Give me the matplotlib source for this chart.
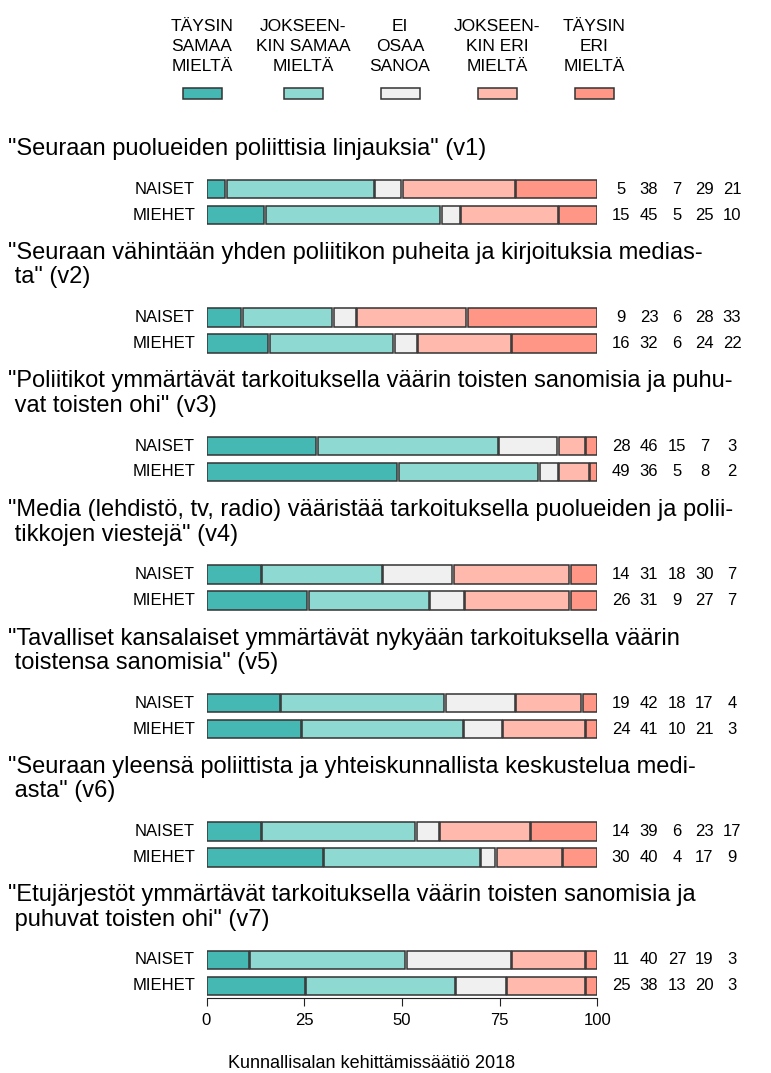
import matplotlib
matplotlib.use("Agg")
import matplotlib.pyplot as plt

""" data """
categories = ["TÄYSIN\nSAMAA\nMIELTÄ", "JOKSEEN-\nKIN SAMAA\nMIELTÄ", "EI\nOSAA\nSANOA",
              "JOKSEEN-\nKIN ERI\nMIELTÄ", "TÄYSIN\nERI\nMIELTÄ"]
colors = ["#45b8b4", "#8fd9d3", "#f0f0f0", "#ffbaad", "#ff9686"]
groups = ["NAISET", "MIEHET"]
questions = [
    ['"Seuraan puolueiden poliittisia linjauksia" (v1)'],
    ['"Seuraan vähintään yhden poliitikon puheita ja kirjoituksia medias-', ' ta" (v2)'],
    ['"Poliitikot ymmärtävät tarkoituksella väärin toisten sanomisia ja puhu-', ' vat toisten ohi" (v3)'],
    ['"Media (lehdistö, tv, radio) vääristää tarkoituksella puolueiden ja polii-', ' tikkojen viestejä" (v4)'],
    ['"Tavalliset kansalaiset ymmärtävät nykyään tarkoituksella väärin', ' toistensa sanomisia" (v5)'],
    ['"Seuraan yleensä poliittista ja yhteiskunnallista keskustelua medi-', ' asta" (v6)'],
    ['"Etujärjestöt ymmärtävät tarkoituksella väärin toisten sanomisia ja', ' puhuvat toisten ohi" (v7)'],
]
naiset = [[5, 38, 7, 29, 21], [9, 23, 6, 28, 33], [28, 46, 15, 7, 3], [14, 31, 18, 30, 7],
          [19, 42, 18, 17, 4], [14, 39, 6, 23, 17], [11, 40, 27, 19, 3]]
miehet = [[15, 45, 5, 25, 10], [16, 32, 6, 24, 22], [49, 36, 5, 8, 2], [26, 31, 9, 27, 7],
          [24, 41, 10, 21, 3], [30, 40, 4, 17, 9], [25, 38, 13, 20, 3]]
ticks = [0, 25, 50, 75, 100]
source = "Kunnallisalan kehittämissäätiö 2018"

""" layout (pixels) """
W, H = 771, 1073
x0, x100 = 206.5, 597.5
first_row = 189
group_step = 128.5
row_step = 26
bar_h = 18.5
gap = 0.35  # small white gap between segments (in %)
num_cols = [621, 649, 677, 704.5, 732]
legend_x = [202, 303, 400, 497, 594]

plt.rcParams["font.family"] = ["Liberation Sans", "DejaVu Sans"]
fig = plt.figure(figsize=(W / 100, H / 100), dpi=100)
ax = fig.add_axes([x0 / W, 0, (x100 - x0) / W, 1])
ax.set_xlim(0, 100)
ax.set_ylim(H, 0)


def ftext(x, y, s, **kw):
    fig.text(x / W, 1 - y / H, s, **kw)


## legend
for i in range(5):
    ftext(legend_x[i], 46.5, categories[i], ha="center", va="center", fontsize=12.5,
          linespacing=1.38)
    fig.patches.append(plt.Rectangle(((legend_x[i] - 19.5) / W, 1 - 99 / H), 39 / W, 11 / H,
                                     transform=fig.transFigure, facecolor=colors[i],
                                     edgecolor="#333333", linewidth=1.1))

## bars
for q in range(len(questions)):
    y1 = first_row + q * group_step
    lines = questions[q]
    for j, line in enumerate(lines):
        ftext(8, y1 - 40 - (len(lines) - 1 - j) * 24.5, line, ha="left", va="center", fontsize=17)
    for r, vals in enumerate([naiset[q], miehet[q]]):
        y = y1 + r * row_step
        tot = sum(vals)
        left = 0
        for k, v in enumerate(vals):
            w = v * 100 / tot
            ax.barh(y, w - gap, left=left + gap / 2, height=bar_h, color=colors[k],
                    edgecolor="#333333", linewidth=1.1)
            left += w
            ftext(num_cols[k], y, str(v), ha="center", va="center", fontsize=12)
        ftext(195, y, groups[r], ha="right", va="center", fontsize=12)

## axis
for s in ["top", "left", "right"]:
    ax.spines[s].set_visible(False)
ax.spines["bottom"].set_position(("data", 998))
ax.spines["bottom"].set_bounds(0, 100)
ax.spines["bottom"].set_color("#222222")
ax.set_yticks([])
ax.set_xticks(ticks)
ax.tick_params(axis="x", direction="out", length=5.5, labelsize=12, pad=5, color="#222222")
ax.patch.set_visible(False)

ftext(372, 1063, source, ha="center", va="center", fontsize=13)

plt.savefig("out.png", dpi=100)
